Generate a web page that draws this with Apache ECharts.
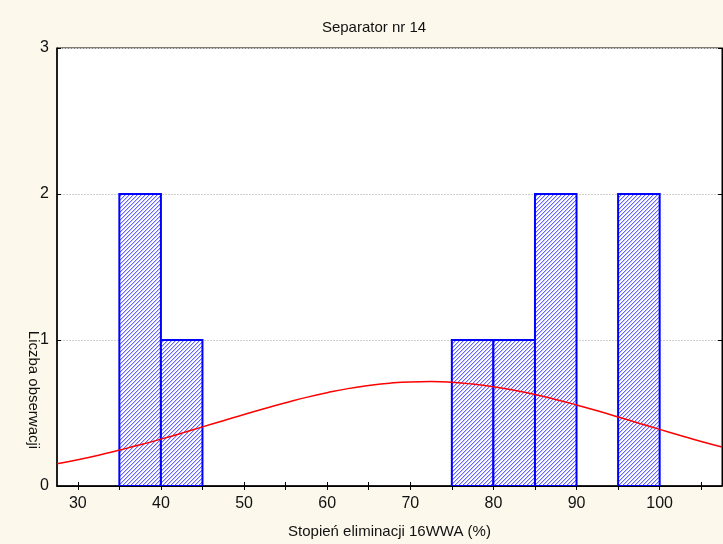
<!DOCTYPE html>
<html><head><meta charset="utf-8">
<script src="https://cdn.jsdelivr.net/npm/echarts@6/dist/echarts.min.js"></script>
<style>html,body{margin:0;padding:0;background:#fdf8ec}#c{width:723px;height:544px}</style>
</head><body><div id="c"></div>
<script>
const title = 'Separator nr 14';
const xName = 'Stopień eliminacji 16WWA (%)';
const yName = 'Liczba obserwacji';
const binStart = [35, 40, 75, 80, 85, 95];
const binEnd   = [40, 45, 80, 85, 90, 100];
const counts   = [2, 1, 1, 1, 2, 2];
const curveX = [27.5,30,32.5,35,37.5,40,42.5,45,47.5,50,52.5,55,57.5,60,62.5,65,67.5,70,72.5,75,77.5,80,82.5,85,87.5,90,92.5,95,97.5,100,102.5,105,107.5];
const curveY = [0.152,0.180,0.211,0.246,0.282,0.321,0.362,0.405,0.447,0.490,0.531,0.570,0.607,0.639,0.667,0.688,0.704,0.713,0.715,0.710,0.698,0.680,0.656,0.627,0.593,0.555,0.515,0.473,0.430,0.388,0.346,0.305,0.267];
const xTickLabels = [30,40,50,60,70,80,90,100];
const xMinorTicks = [30,35,40,45,50,55,60,65,70,75,80,85,90,95,100,105];

// hatch pattern
const pc = document.createElement('canvas');
pc.width = 4; pc.height = 4;
const g = pc.getContext('2d');
g.fillStyle = 'rgb(255,255,255)'; g.fillRect(0,0,4,4);
for (let i = 0; i < 4; i++) {
  g.fillStyle = 'rgb(200,200,255)'; g.fillRect((4 - i) % 4, i, 1, 1);
  g.fillStyle = 'rgb(100,100,255)'; g.fillRect(3 - i, i, 1, 1);
}
const hatchImg = new Image();
hatchImg.src = pc.toDataURL('image/png');

const chart = echarts.init(document.getElementById('c'));
const font = 'Liberation Sans, Arial, sans-serif';
function draw() {
chart.setOption({
  backgroundColor: '#fdf8ec',
  animation: false,
  title: { text: title, left: 369, top: 15, textAlign: 'center',
    textStyle: { fontFamily: font, fontSize: 15, fontWeight: 'normal', color: '#111' } },
  grid: { left: 57, right: 1, top: 48, bottom: 56, show: true, backgroundColor: '#ffffff',
    borderColor: '#000', borderWidth: 1 },
  xAxis: [{
    type: 'value', min: 27.5, max: 107.5,
    name: xName, nameLocation: 'middle', nameGap: 38,
    nameTextStyle: { fontFamily: font, fontSize: 15, color: '#111' },
    axisLine: { show: true, onZero: false, lineStyle: { color: '#000', width: 1.5 } },
    axisTick: { show: true, inside: true, length: 4, customValues: xMinorTicks, lineStyle: { color: '#000' } },
    axisLabel: { customValues: xTickLabels, fontFamily: font, fontSize: 16, color: '#111', margin: 10 },
    splitLine: { show: false }
  }, {
    type: 'value', min: 27.5, max: 107.5, position: 'top',
    axisLine: { show: true, lineStyle: { color: '#000' } },
    axisTick: { show: true, inside: true, length: 4, customValues: xMinorTicks, lineStyle: { color: '#000' } },
    axisLabel: { show: false }, splitLine: { show: false }
  }],
  yAxis: [{
    type: 'value', min: 0, max: 3, interval: 1,
    axisLine: { show: true, lineStyle: { color: '#000', width: 1.5 } },
    axisTick: { show: true, inside: true, length: 4, lineStyle: { color: '#000' } },
    axisLabel: { fontFamily: font, fontSize: 16, color: '#111', margin: 8 },
    splitLine: { show: true, lineStyle: { color: '#d0d0d0', type: [2, 1], width: 1 } }
  }, {
    type: 'value', min: 0, max: 3, interval: 1, position: 'right',
    axisLine: { show: true, lineStyle: { color: '#000' } },
    axisTick: { show: true, inside: true, length: 4, lineStyle: { color: '#000' } },
    axisLabel: { show: false }, splitLine: { show: false }
  }],
  graphic: [{
    type: 'text', x: 33, y: 390, rotation: -Math.PI / 2,
    style: { text: yName, font: '15px ' + font, fill: '#111', align: 'center', verticalAlign: 'middle' }
  }],
  series: [{
    type: 'custom',
    clip: true,
    data: binStart.map((s, i) => [s, binEnd[i], counts[i]]),
    renderItem: function (params, api) {
      const p0 = api.coord([api.value(0), 0]);
      const p1 = api.coord([api.value(1), api.value(2)]);
      return {
        type: 'rect',
        shape: { x: p0[0], y: p1[1], width: p1[0] - p0[0], height: p0[1] - p1[1] },
        style: { fill: { image: hatchImg, repeat: 'repeat' }, stroke: '#0000ff', lineWidth: 2 }
      };
    },
    z: 2
  }, {
    type: 'line',
    data: curveX.map((x, i) => [x, curveY[i]]),
    smooth: true, showSymbol: false,
    lineStyle: { color: '#ff0000', width: 1.5 },
    z: 3
  }]
});
}
if (hatchImg.complete) draw(); else { hatchImg.onload = draw; }
</script></body></html>
